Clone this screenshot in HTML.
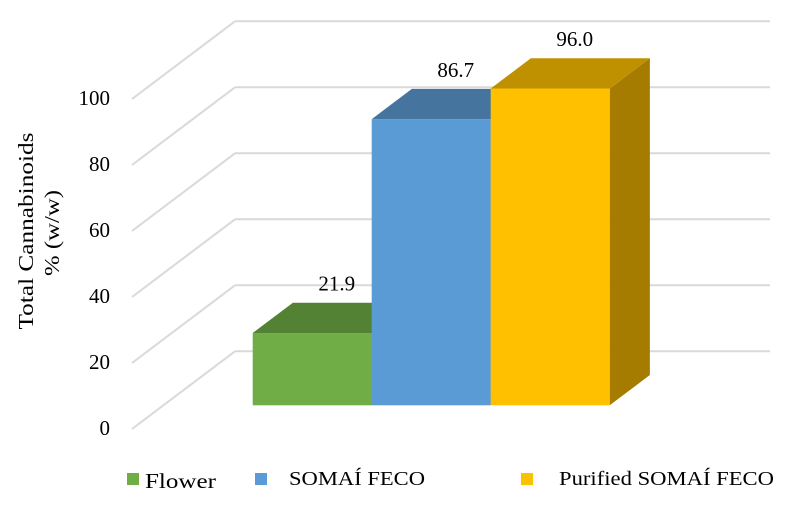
<!DOCTYPE html>
<html><head><meta charset="utf-8"><style>
body{margin:0;background:#fff;}
svg text{font-family:"Liberation Serif",serif;fill:#000;}
</style></head><body>
<svg id="chart" width="792" height="500" viewBox="0 0 792 500" xmlns="http://www.w3.org/2000/svg">
<text transform="translate(33,231) rotate(-90)" text-anchor="middle" font-size="21" textLength="197" lengthAdjust="spacingAndGlyphs">Total Cannabinoids</text>
<text transform="translate(59,233) rotate(-90)" text-anchor="middle" font-size="21" textLength="86" lengthAdjust="spacingAndGlyphs">% (w/w)</text>
<g id="grid"></g><g id="bars"></g><g id="labels"></g>
<g>
<rect x="127" y="473" width="12" height="12" fill="#70AD47"/>
<text x="145" y="488" font-size="21" textLength="71" lengthAdjust="spacingAndGlyphs">Flower</text>
<rect x="255" y="473" width="12" height="12" fill="#5B9BD5"/>
<text x="289" y="485" font-size="20" textLength="136" lengthAdjust="spacingAndGlyphs">SOMAÍ FECO</text>
<rect x="521" y="473" width="12" height="12" fill="#FFC000"/>
<text x="559" y="485" font-size="20" textLength="215" lengthAdjust="spacingAndGlyphs">Purified SOMAÍ FECO</text>
</g>
</svg>
<script>
const categories = ["Flower", "SOMAÍ FECO", "Purified SOMAÍ FECO"];
const values = [21.9, 86.7, 96.0];
const ticks = [0, 20, 40, 60, 80, 100];
const NS = "http://www.w3.org/2000/svg";
const fx0 = 132, fy0 = 429, DX = 103, DY = -77.7, ppu = 3.3, backRight = 770;
const f0 = 0.305, fd = 0.39;
function yAt(v, depth){ return fy0 + depth*DY - v*ppu; }
function mk(tag, attrs, parent){ const e=document.createElementNS(NS,tag); for(const k in attrs) e.setAttribute(k, attrs[k]); parent.appendChild(e); return e; }
const gridG = document.getElementById('grid');
ticks.forEach(t=>{
  const yb = yAt(t,1), yf = yAt(t,0);
  const l = mk('line',{x1:fx0+DX,y1:yb,x2:backRight,y2:yb,stroke:'#d9d9d9','stroke-width':2},gridG);
  
  
  const d = mk('line',{x1:fx0,y1:yf,x2:fx0+DX,y2:yb,stroke:'#d9d9d9','stroke-width':2},gridG);
  
  
  const tx = mk('text',{x:110,y:yf+6,'text-anchor':'end','font-size':21},gridG);
  
  
  tx.textContent = t;
});
const barsG = document.getElementById('bars'), labelsG = document.getElementById('labels');
const frontCol=['#70AD47','#5B9BD5','#FFC000'], topCol=['#548235','#45759F','#BF9000'], sideCol=['#466F2C','#3A6A94','#A57C00'];
const barX0 = 252.7, barW = 119;
const od = fd*DX, odY = fd*DY;
for (let i=0;i<categories.length;i++){
  const v = values[i];
  const x1 = barX0 + i*barW, x2 = x1+barW;
  const yb = yAt(0,f0), yt = yAt(v,f0);
  const g = mk('g',{},barsG);
  
  
  const s = mk('polygon',{points:`${x2},${yt} ${x2+od},${yt+odY} ${x2+od},${yb+odY} ${x2},${yb}`,fill:sideCol[i]},g);
  
  
  const tp = mk('polygon',{points:`${x1},${yt} ${x1+od},${yt+odY} ${x2+od},${yt+odY} ${x2},${yt}`,fill:topCol[i]},g);
  
  
  const f = mk('rect',{x:x1,y:yt,width:barW,height:yb-yt,fill:frontCol[i]},g);
  
  
  const lb = mk('text',{x:x1+84,y:yt+odY-12,'text-anchor':'middle','font-size':21},labelsG);
  
  
  lb.textContent = v.toFixed(1);
}
</script>
</body></html>
